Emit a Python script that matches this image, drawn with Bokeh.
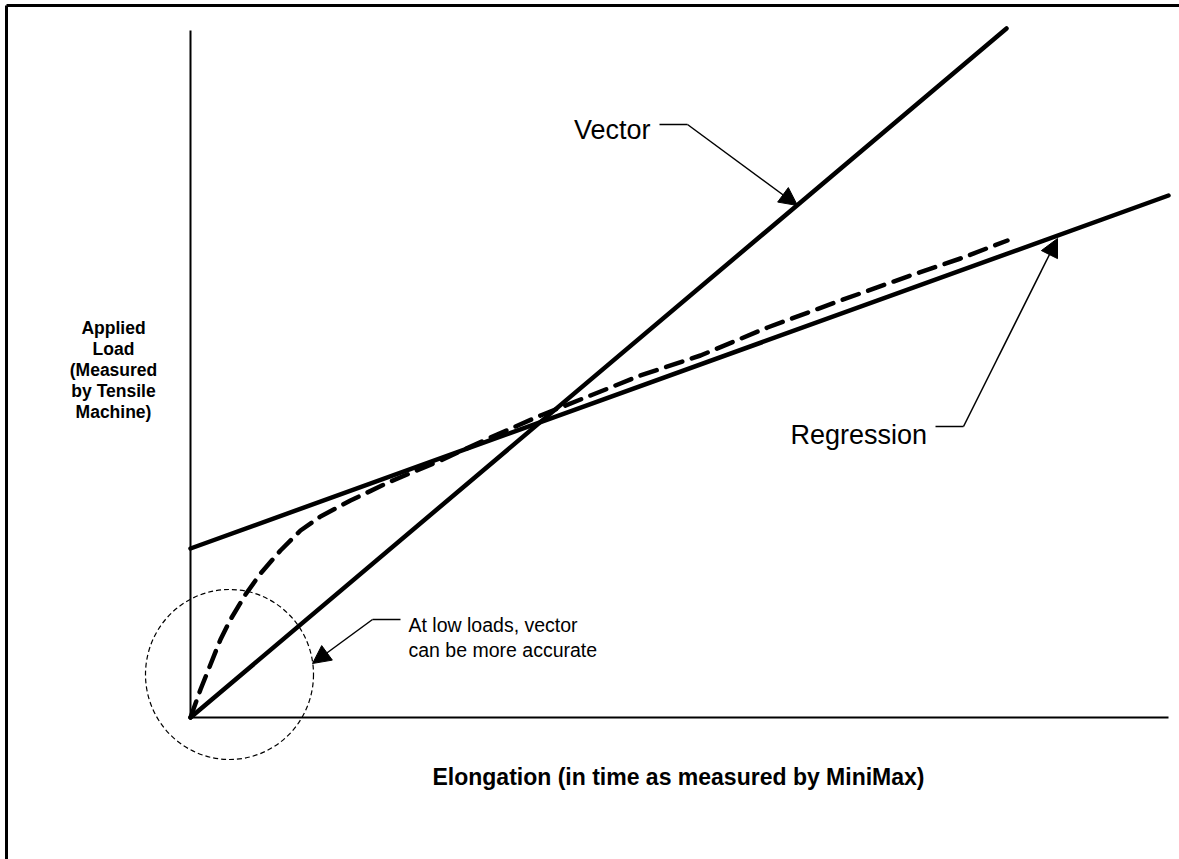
from bokeh.plotting import figure
from bokeh.models import Range1d, Arrow, NormalHead
from bokeh.core.properties import value
from bokeh.embed import file_html
from bokeh.resources import INLINE

# ---- data (elongation units vs applied load units) ----
vector_x = [0, 816]
vector_y = [0, 689]
regression_x = [0, 978]
regression_y = [169, 522]
measured_x = [0, 5, 10, 20, 30, 40, 55, 70, 90, 110, 130, 160, 200, 250, 300,
              350, 400, 450, 510, 577, 650, 720, 770, 817]
measured_y = [0, 14, 28, 53, 78, 98, 123, 144, 167, 187, 201, 217, 236, 257, 280,
              302, 322, 342, 362, 390, 417, 442, 459, 477]
axis_x_max = 978
axis_y_max = 687

y_label_lines = ["Applied", "Load", "(Measured", "by Tensile", "Machine)"]
x_label = "Elongation (in time as measured by MiniMax)"
note_lines = ["At low loads, vector", "can be more accurate"]

FONT = value("Liberation Sans")

W, H = 1179, 859
p = figure(width=W, height=H, output_backend="svg", toolbar_location=None,
           x_range=Range1d(-190, W - 190), y_range=Range1d(717 - H, 717),
           x_axis_type=None, y_axis_type=None, min_border=0,
           outline_line_color=None, background_fill_color="white",
           border_fill_color="white")

# frame (top and left edges visible)
p.line([-184, -184], [717 - H, 712], line_color="black", line_width=3)
p.line([-184, W - 190], [712, 712], line_color="black", line_width=3)

# axes
p.line([0, 0], [0, axis_y_max], line_color="black", line_width=2)
p.line([0, axis_x_max], [0, 0], line_color="black", line_width=2)

# lines
p.line(vector_x, vector_y, line_color="black", line_width=4.5, line_cap="round")
p.line(regression_x, regression_y, line_color="black", line_width=4.5, line_cap="round")
p.line(measured_x, measured_y, line_color="black", line_width=4.5,
       line_dash="17 10", line_cap="round", line_join="round")

# low-load circle
p.ellipse(x=[39], y=[43], width=[168], height=[170], fill_color=None,
          line_color="black", line_width=1.2, line_dash="5 3")

head = dict(size=18, fill_color="black", line_color="black")

# Vector callout
p.text(x=[460], y=[588], text=["Vector"], text_align="right",
       text_baseline="alphabetic", text_font=FONT, text_font_size="27px",
       text_color="black")
p.line([469, 497], [593, 593], line_color="black", line_width=1.5)
p.add_layout(Arrow(end=NormalHead(**head), x_start=497, y_start=593,
                   x_end=607, y_end=512, line_width=1.5))

# Regression callout
p.text(x=[600], y=[283], text=["Regression"], text_align="left",
       text_baseline="alphabetic", text_font=FONT, text_font_size="27px",
       text_color="black")
p.line([745, 773], [291, 291], line_color="black", line_width=1.5)
p.add_layout(Arrow(end=NormalHead(**head), x_start=773, y_start=291,
                   x_end=867, y_end=479, line_width=1.5))

# low loads callout
p.text(x=[218, 218], y=[93, 68], text=note_lines, text_align="left",
       text_baseline="alphabetic", text_font=FONT, text_font_size="19.5px",
       text_color="black")
p.line([182, 210], [98, 98], line_color="black", line_width=1.5)
p.add_layout(Arrow(end=NormalHead(**head), x_start=182, y_start=98,
                   x_end=122, y_end=54, line_width=1.5))

# axis titles
n = len(y_label_lines)
p.text(x=[-77] * n, y=[390 - 21 * i for i in range(n)], text=y_label_lines,
       text_align="center", text_baseline="middle", text_font=FONT,
       text_font_style="bold", text_font_size="17.5px", text_color="black")
p.text(x=[488], y=[-59], text=[x_label], text_align="center",
       text_baseline="middle", text_font=FONT, text_font_style="bold",
       text_font_size="23px", text_color="black")

open("out.html", "w").write(file_html(p, INLINE))
